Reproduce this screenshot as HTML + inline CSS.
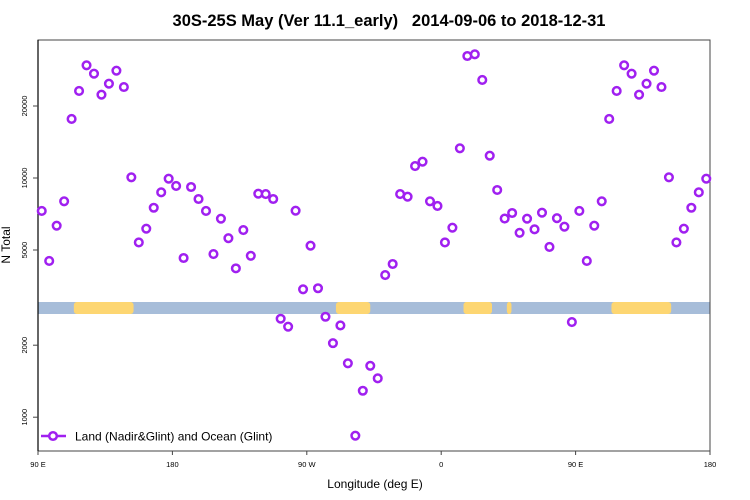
<!DOCTYPE html>
<html><head><meta charset="utf-8"><style>
body{margin:0;background:#fff;}
svg{display:block;font-family:"Liberation Sans",sans-serif;}
</style></head><body>
<svg id="chart" width="750" height="500" viewBox="0 0 750 500">
<text x="389" y="26" text-anchor="middle" font-size="16.5" font-weight="bold" style="white-space:pre">30S-25S May (Ver 11.1_early)   2014-09-06 to 2018-12-31</text>
<text x="375" y="488" text-anchor="middle" font-size="12">Longitude (deg E)</text>
<text transform="translate(10,245) rotate(-90)" text-anchor="middle" font-size="12">N Total</text>
<g id="band"></g>
<g id="axes"></g>
<g id="points"></g>
<g>
<line x1="41" y1="436" x2="66" y2="436" stroke="#a020f0" stroke-width="2.5"/>
<circle cx="53" cy="436" r="3.8" fill="#fff" stroke="#a020f0" stroke-width="2.5"/>
<text x="75" y="440.5" font-size="12">Land (Nadir&amp;Glint) and Ocean (Glint)</text>
</g>
</svg>
<script>
const lonStart = 92.5, lonStep = 5;
const values = [7280,4500,6320,7990,17650,23110,29600,27290,22290,24790,28100,24010,10070,5380,6140,7510,8710,9930,9260,4630,9170,8170,7280,4810,6760,5600,4190,6060,4730,8600,8570,8170,2580,2390,7300,3425,5210,3460,2630,2040,2420,1680,837,1290,1640,1454,3930,4370,8570,8350,11220,11700,7990,7640,5380,6200,13310,32360,32890,25690,12390,8910,6770,7140,5900,6760,6100,7160,5150,6790,6260,2500];
const landSegments = [[114,154],[289.5,312.5],[15,34],[44,47]];
const yTicks = [1000,2000,5000,10000,20000];
const xTickLons = [90,180,270,360,450,540];
const xTickLabels = ["90 E","180","90 W","0","90 E","180"];
const X0=38,X1=710,Y0=40,Y1=451;
const xs = l => X0 + (l-90)*(X1-X0)/450;
const ys = v => 178 - 239.2*Math.log10(v/10000);
const NS="http://www.w3.org/2000/svg";
function mk(tag,attrs,parent){const e=document.createElementNS(NS,tag);for(const k in attrs)e.setAttribute(k,attrs[k]);parent.appendChild(e);return e;}
const band=document.getElementById('band');
let r=mk('rect',{x:X0,y:302,width:X1-X0,height:12,fill:'#a7bdd9'},band);


landSegments.forEach(s=>{[0,360].forEach(o=>{
  let a=s[0]+o,b=s[1]+o; if(a<90)a+=360,b+=360; if(a>540)return;
  a=Math.max(a,90); b=Math.min(b,540); if(b<=a)return;
  const e=mk('rect',{x:xs(a),y:302,width:xs(b)-xs(a),height:12,rx:3,fill:'#fdd672'},band);
  
  
});});
const ax=document.getElementById('axes');
mk('rect',{x:X0,y:Y0,width:X1-X0,height:Y1-Y0,fill:'none',stroke:'#444',"stroke-width":1},ax);
mk('line',{x1:X0,y1:Y0,x2:X0,y2:Y1,stroke:'#000',"stroke-width":1.2},ax);
yTicks.forEach(v=>{const y=ys(v);
  mk('line',{x1:X0-5,y1:y,x2:X0,y2:y,stroke:'#444'},ax);
  const t=mk('text',{transform:`translate(${X0-11},${y}) rotate(-90)`,"text-anchor":"middle","font-size":7.5},ax);
  t.textContent=v;
  
  
});
xTickLons.forEach((l,i)=>{const x=xs(l);
  mk('line',{x1:x,y1:Y1,x2:x,y2:Y1+4,stroke:'#444'},ax);
  const t=mk('text',{x:x,y:467,"text-anchor":"middle","font-size":7.5},ax);
  t.textContent=xTickLabels[i];
  
  
});
const pts=document.getElementById('points');
values.forEach((v,i)=>{const lon=lonStart+i*lonStep;
  [lon,lon+360].forEach(l=>{ if(l<90||l>540)return;
    const c=mk('circle',{cx:xs(l),cy:ys(v),r:3.8,fill:'#fff',stroke:'#a020f0',"stroke-width":2.5},pts);
    
    
  });
});
</script>
</body></html>
